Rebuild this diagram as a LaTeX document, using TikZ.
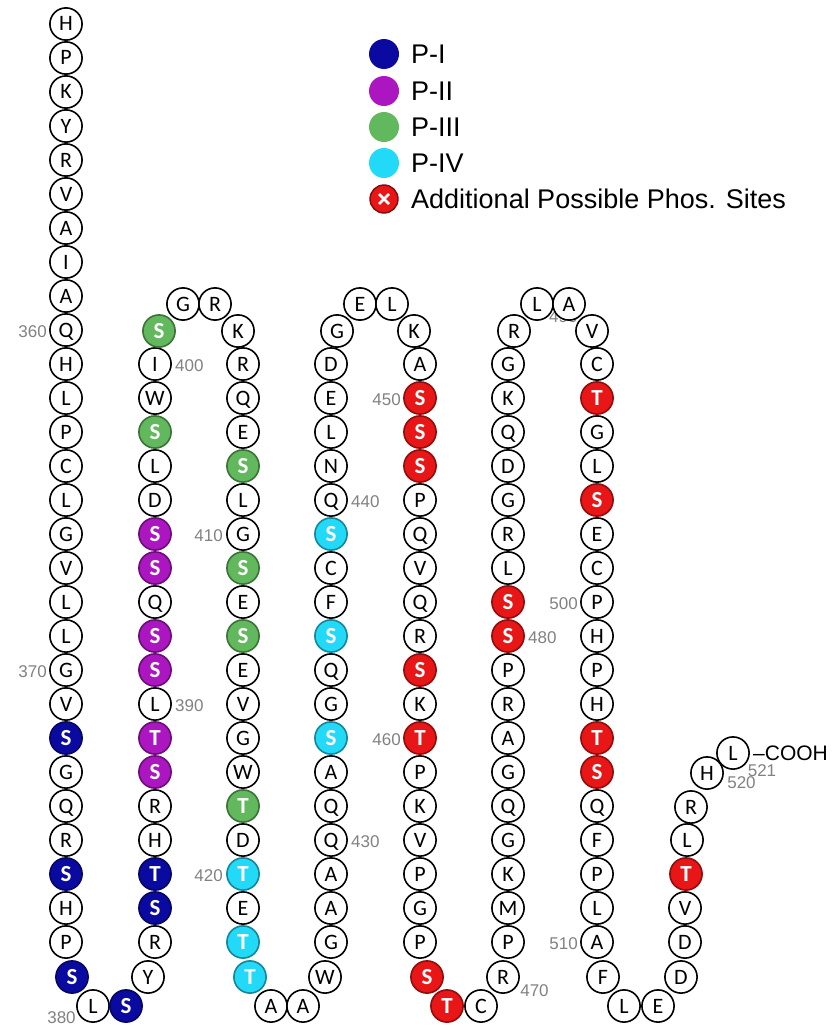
\documentclass[tikz,border=0pt]{standalone}
\usepackage{fontspec}
\setmainfont{Liberation Sans}
\newfontfamily\resfont{Carlito}

\definecolor{pone}{RGB}{10,10,160}
\definecolor{ptwo}{RGB}{172,22,192}
\definecolor{pthree}{RGB}{98,184,92}
\definecolor{pfour}{RGB}{34,218,248}
\definecolor{padd}{RGB}{232,22,22}
\definecolor{numgray}{RGB}{130,130,130}

% one residue: style, number, x, y, letter
\newcommand\putres[5]{\node[#1] (r#2) at (#3,#4) {#5};}
% a straight run of residues: x, first y, step in y, first number, letter/style list
\newcommand\rescol[5]{%
  \foreach \rl/\rs [count=\ri from 0] in {#5}{%
    \pgfmathtruncatemacro\rn{#4+\ri}%
    \pgfmathsetmacro\ry{#2+(#3)*\ri}%
    \edef\resnext{\noexpand\putres{\rs}{\rn}{#1}{\ry}{\rl}}\resnext
  }%
}

\begin{document}
\begin{tikzpicture}[x=1pt,y=-1pt,
  res/.style={circle, draw=black, line width=1.6pt, fill=white,
    minimum size=32.2pt, inner sep=0pt, text height=14pt, text depth=0pt,
    font=\resfont\fontsize{22}{22}\selectfont},
  phos/.style={res, fill=#1, draw=#1!62!black, text=white,
    font=\resfont\bfseries\fontsize{23}{23}\selectfont},
  pI/.style={phos=pone}, pII/.style={phos=ptwo}, pIII/.style={phos=pthree},
  pIV/.style={phos=pfour}, pX/.style={phos=padd},
  num/.style={text=numgray, inner sep=0pt, font=\fontsize{17}{17}\selectfont},
  legdot/.style={circle, fill=#1, minimum size=30pt, inner sep=0pt},
  legtext/.style={anchor=base west, inner sep=0pt, font=\fontsize{27}{27}\selectfont}]

\path[use as bounding box, fill=white] (0,0) rectangle (835,1025);

% residue numbers (drawn first, circles may cover them)
\node[num, anchor=east] (n360) at (47,332) {360};
\node[num, anchor=east] (n370) at (47,672) {370};
\node[num] (n380) at (61.5,1017.5) {380};
\node[num, anchor=west] (n400) at (175,366) {400};
\node[num, anchor=west] (n390) at (175,706) {390};
\node[num, anchor=east] (n410) at (223,536) {410};
\node[num, anchor=east] (n420) at (223,876) {420};
\node[num, anchor=west] (n440) at (351,502) {440};
\node[num, anchor=west] (n430) at (351,842) {430};
\node[num, anchor=east] (n450) at (401,400) {450};
\node[num, anchor=east] (n460) at (401,740) {460};
\node[num] (n470) at (534.5,991) {470};
\node[num, anchor=west] (n480) at (528,638) {480};
\node[num, anchor=west] (n490) at (549,317) {490};
\node[num, anchor=east] (n500) at (578,604) {500};
\node[num, anchor=east] (n510) at (578,944) {510};
\node[num] (n521) at (762,771) {521};
\node[num] (n520) at (741.5,783) {520};

% N-terminal column
\rescol{66}{24}{34}{351}{H/res,P/res,K/res,Y/res,R/res,V/res,A/res,I/res,A/res,Q/res,H/res,L/res,P/res,C/res,L/res,G/res,V/res,L/res,L/res,G/res,V/res,S/pI,G/res,Q/res,R/res,S/pI,H/res,P/res}
\node[pI]  (r379) at (72,977)   {S};
\node[res] (r380) at (93,1006)  {L};
\node[pI]  (r381) at (126,1006) {S};
\node[res] (r382) at (148,977)  {Y};
\rescol{155}{942}{-34}{383}{R/res,S/pI,T/pI,H/res,R/res,S/pII,T/pII,L/res,S/pII,S/pII,Q/res,S/pII,S/pII,D/res,L/res,S/pIII,W/res,I/res}
\node[pIII] (r401) at (159,331) {S};
\node[res]  (r402) at (183,304) {G};
\node[res]  (r403) at (215,304) {R};
\node[res]  (r404) at (238,331) {K};
\rescol{243}{364}{34}{405}{R/res,Q/res,E/res,S/pIII,L/res,G/res,S/pIII,E/res,S/pIII,E/res,V/res,G/res,W/res,T/pIII,D/res,T/pIV,E/res,T/pIV}
\node[pIV] (r423) at (250,977)  {T};
\node[res] (r424) at (271,1006) {A};
\node[res] (r425) at (303,1006) {A};
\node[res] (r426) at (325,977)  {W};
\rescol{331}{942}{-34}{427}{G/res,A/res,A/res,Q/res,Q/res,A/res,S/pIV,G/res,Q/res,S/pIV,F/res,C/res,S/pIV,Q/res,N/res,L/res,E/res,D/res}
\node[res] (r445) at (337,331) {G};
\node[res] (r446) at (360,304) {E};
\node[res] (r447) at (392,304) {L};
\node[res] (r448) at (414,331) {K};
\rescol{420}{364}{34}{449}{A/res,S/pX,S/pX,S/pX,P/res,Q/res,V/res,Q/res,R/res,S/pX,K/res,T/pX,P/res,K/res,V/res,P/res,G/res,P/res}
\node[pX]  (r467) at (427,977)  {S};
\node[pX]  (r468) at (447,1006) {T};
\node[res] (r469) at (481,1006) {C};
\node[res] (r470) at (503,977)  {R};
\rescol{508}{942}{-34}{471}{P/res,M/res,K/res,G/res,Q/res,G/res,A/res,R/res,P/res,S/pX,S/pX,L/res,R/res,G/res,D/res,Q/res,K/res,G/res}
\node[res] (r489) at (514,331) {R};
\node[res] (r490) at (537,304) {L};
\node[res] (r491) at (569,304) {A};
\node[res] (r492) at (592,331) {V};
\rescol{597}{364}{34}{493}{C/res,T/pX,G/res,L/res,S/pX,E/res,C/res,P/res,H/res,P/res,H/res,T/pX,S/pX,Q/res,F/res,P/res,L/res,A/res}
\node[res] (r511) at (603,977)  {F};
\node[res] (r512) at (624,1006) {L};
\node[res] (r513) at (658,1006) {E};
\node[res] (r514) at (681,977)  {D};
% C-terminal tail
\node[res] (r515) at (685,942) {D};
\node[res] (r516) at (685,908) {V};
\node[pX]  (r517) at (686,874) {T};
\node[res] (r518) at (687,840) {L};
\node[res] (r519) at (691,807) {R};
\node[res] (r520) at (707,773) {H};
\node[res] (r521) at (733,753) {L};
\node[anchor=west, inner sep=0pt, font=\fontsize{21}{21}\selectfont] (cooh) at (753,753) {\textendash COOH};

% legend
\node[legdot=pone]   (lg1) at (384,54)  {};
\node[legdot=ptwo]   (lg2) at (384,91)  {};
\node[legdot=pthree] (lg3) at (384,127) {};
\node[legdot=pfour]  (lg4) at (384,163) {};
\node[circle, fill=padd, draw=padd!55!black, line width=1.4pt, minimum size=28pt, inner sep=0pt] (lg5) at (384,199) {};
\draw[white, line width=2.6pt] ([shift={(-5,-5)}]lg5.center) -- ([shift={(5,5)}]lg5.center);
\draw[white, line width=2.6pt] ([shift={(-5,5)}]lg5.center) -- ([shift={(5,-5)}]lg5.center);
\node[legtext] (lt1) at (411,63.5)  {P-I};
\node[legtext] (lt2) at (411,100.5) {P-II};
\node[legtext] (lt3) at (411,136.5) {P-III};
\node[legtext] (lt4) at (411,172.5) {P-IV};
\node[legtext] (lt5) at (411,208.5) {Additional Possible Phos. Sites};
\end{tikzpicture}
\end{document}
